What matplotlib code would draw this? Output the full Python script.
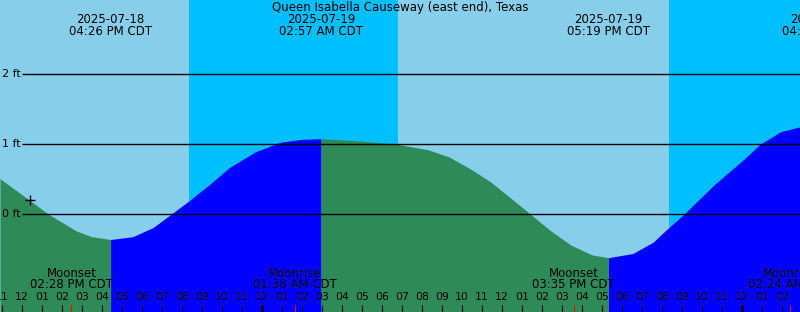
import matplotlib.pyplot as plt
import numpy as np

# hours after 12:00 PM CDT on 2025-07-18
tide_hours = [-1.1, 0.43, 1.33, 2.73, 3.49, 4.43, 5.54, 6.55,
              7.45, 8.34, 9.35, 10.38, 11.65, 12.93, 13.95, 14.95, 16.75,
              18.8, 20.33, 21.35, 22.35, 23.4, 24.4, 25.43, 26.45, 27.45,
              28.5, 29.32, 30.54, 31.55, 32.3, 33.09, 34.6, 36.15, 36.9,
              37.93, 38.9]
tide_ft = [0.51, 0.19, 0.00, -0.24, -0.32, -0.36, -0.32, -0.19,
           0.00, 0.19, 0.42, 0.67, 0.89, 1.03, 1.07, 1.08, 1.05,
           1.00, 0.92, 0.82, 0.66, 0.47, 0.24, 0.00, -0.24, -0.44,
           -0.58, -0.62, -0.56, -0.40, -0.20, 0.00, 0.42, 0.80, 1.00,
           1.18, 1.25]

extreme_hours = [4.43, 14.95, 29.32, 40.1]
extreme_dates = ["2025-07-18", "2025-07-19", "2025-07-19", "2025-07-20"]
extreme_times = ["04:26 PM CDT", "02:57 AM CDT", "05:19 PM CDT", "04:06 AM CDT"]

moon_hours = [2.47, 13.63, 27.58, 38.4]
moon_events = ["Moonset", "Moonrise", "Moonset", "Moonrise"]
moon_times = ["02:28 PM CDT", "01:38 AM CDT", "03:35 PM CDT", "02:24 AM CDT"]

sun_events = [8.35, 18.8, 32.35]  # sunset, sunrise, sunset
level_lines = [0, 1, 2]
now_hour, now_ft = 0.4, 0.2

title = "Queen Isabella Causeway (east end), Texas"

DAY = "#87CEEB"
NIGHT = "#00BFFF"
EBB = "#2E8B57"
FLOOD = "#0000FF"

x0, x1 = -1.1, 38.9
y0, y1 = (214.3 - 312) / 70, 214.3 / 70

fig = plt.figure(figsize=(8, 3.12), dpi=100)
ax = fig.add_axes([0, 0, 1, 1])
ax.set_xlim(x0, x1)
ax.set_ylim(y0, y1)
ax.axis("off")

# day / night background
ax.axvspan(x0, sun_events[0], color=DAY, lw=0)
ax.axvspan(sun_events[0], sun_events[1], color=NIGHT, lw=0)
ax.axvspan(sun_events[1], sun_events[2], color=DAY, lw=0)
ax.axvspan(sun_events[2], x1, color=NIGHT, lw=0)

# water, coloured by falling / rising
t = np.array(tide_hours)
h = np.array(tide_ft)
bounds = [x0] + [e for e in extreme_hours if x0 < e < x1] + [x1]
for i in range(len(bounds) - 1):
    m = (t >= bounds[i] - 1e-9) & (t <= bounds[i + 1] + 1e-9)
    falling = h[m][-1] < h[m][0]
    ax.fill_between(t[m], y0, h[m], color=EBB if falling else FLOOD, lw=0)

for lv in level_lines:
    ax.hlines(lv, 0, x1, color="black", lw=1)
    ax.text(-1.0, lv, f"{lv} ft", ha="left", va="center", fontsize=8)

ax.plot(now_hour, now_ft, marker="+", color="black", markersize=7, mew=1)

xt = ax.get_xaxis_transform()


def fy(py):
    return 1 - py / 312


ax.text(0.5, fy(7.5), title, transform=ax.transAxes, ha="center",
        va="center", fontsize=8.5)
for eh, ed, et in zip(extreme_hours, extreme_dates, extreme_times):
    ax.text(eh, fy(19.5), ed, transform=xt, ha="center", va="center", fontsize=8.5)
    ax.text(eh, fy(31.5), et, transform=xt, ha="center", va="center", fontsize=8.5)

for mh, me, mt in zip(moon_hours, moon_events, moon_times):
    ax.text(mh, fy(273.5), me, transform=xt, ha="center", va="center", fontsize=8.5)
    ax.text(mh, fy(285), mt, transform=xt, ha="center", va="center", fontsize=8.5)

# hour ticks along the bottom
tick_top = y0 + 7 / 70
for hr in range(-1, 39):
    clock = (12 + hr) % 12 or 12
    ax.text(hr, fy(297.5), f"{clock:02d}", transform=xt, ha="center",
            va="center", fontsize=7.8)
    midnight = (12 + hr) % 24 == 0
    ax.vlines(hr, y0, tick_top, color="black", lw=2.2 if midnight else 0.8)
for mh in moon_hours:
    ax.vlines(mh, y0, tick_top, color="red", lw=0.8)

fig.savefig("out.png", dpi=100)
